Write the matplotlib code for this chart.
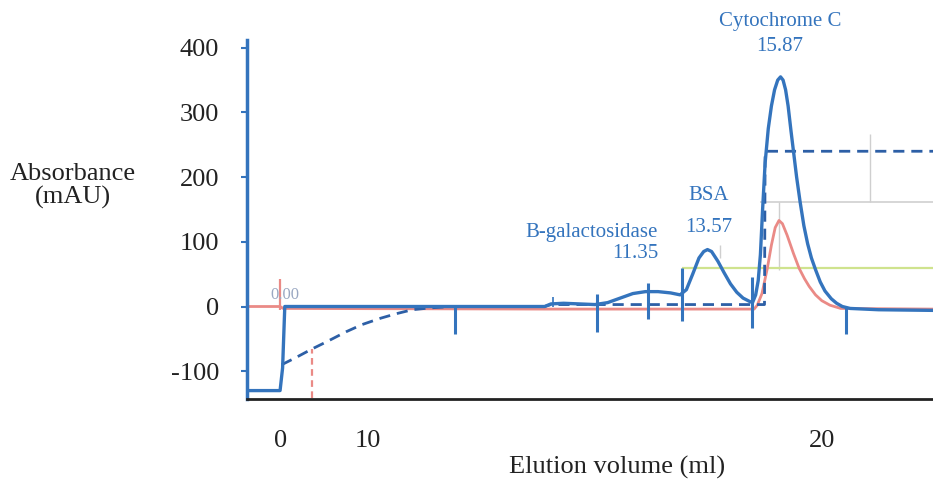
import matplotlib.pyplot as plt
import numpy as np

# elution volume (ml) and absorbance (mAU)
uv_v = [-1.05, 0.0, 0.08, 0.15, 2, 5, 8.4, 8.6, 9.0, 9.5, 10.0, 10.4, 10.8, 11.2, 11.6, 12.0,
        12.4, 12.7, 12.9, 13.1, 13.3, 13.45, 13.57, 13.7, 13.9, 14.1, 14.3, 14.5, 14.7, 14.9,
        15.0, 15.1, 15.18, 15.25, 15.32, 15.4, 15.5, 15.6, 15.7, 15.8, 15.89, 15.97, 16.05,
        16.13, 16.22, 16.3, 16.4, 16.51, 16.63, 16.75, 16.87, 17.0, 17.15, 17.3, 17.5, 17.67,
        17.85, 18.1, 19.0, 20.73]
uv_a = [-130, -130, -95, 0, 0, 0, 0, 4, 5, 4, 3, 6, 13, 20, 23, 23,
        21, 18, 26, 50, 75, 85, 88, 85, 70, 52, 35, 22, 13, 8,
        6, 18, 40, 80, 150, 222, 275, 310, 335, 350, 355, 350, 335,
        310, 272, 240, 200, 162, 125, 97, 75, 57, 38, 24, 12, 5,
        0, -3, -5, -6]

red_v = [-1.05, 0.0, 0.1, 8.4, 15.05, 15.15, 15.3, 15.47, 15.6, 15.72, 15.84, 15.95, 16.1,
         16.3, 16.48, 16.65, 16.8, 17.0, 17.2, 17.46, 17.8, 20.73]
red_a = [0, 0, -3, -4, -4, 2, 20, 59, 95, 122, 133, 128, 110,
         82, 59, 43, 31, 18, 9, 2, -3, -4]

dash_v = [0.05, 0.5, 1.0, 1.5, 2.1, 2.6, 3.2, 3.7, 4.2, 4.8, 5.5, 8.4, 8.6, 15.38, 15.4, 20.73]
dash_a = [-90, -79, -66, -54, -39, -28, -18, -11, -5, -2, 0, 0, 3, 3, 240, 240]

# fraction / event marks: (volume, top, bottom)
marks_v = [5.56, 10.06, 11.68, 12.76, 14.98, 17.97]
marks_top = [0, 19, 37, 60, 46, 0]
marks_bot = [-43, -39, -20, -23, -33, -43]

peaks = [("B-galactosidase", "11.35"), ("BSA", "13.57"), ("Cytochrome C", "15.87")]

xtick_pos = [0, 2.79, 17.2]
xtick_lab = ["0", "10", "20"]
yticks = [-100, 0, 100, 200, 300, 400]

blue = "#3474bd"
dblue = "#2d5fa6"
red = "#ea8a86"
green = "#cfe38e"
gray = "#cfcfcf"
serif = ["Liberation Serif", "DejaVu Serif"]

fig = plt.figure(figsize=(9.33, 4.83), dpi=100)
ax = fig.add_axes([247/933, 1-399/483, 1-247/933, 359/483])
ax.set_xlim(-1.05, 20.73)
ax.set_ylim(-143, 412)

# faint fraction lines
ax.hlines(162, 15.25, 20.73, color=gray, lw=1.2)
ax.vlines(18.73, 162, 266, color=gray, lw=1.0)
ax.vlines(15.84, 57, 162, color=gray, lw=1.0)
ax.vlines(13.97, 75, 95, color=gray, lw=1.0)
ax.hlines(59, 12.76, 20.73, color=green, lw=1.6)

ax.plot(red_v, red_a, color=red, lw=2.0)
ax.plot(dash_v, dash_a, color=dblue, lw=2.0, ls=(0, (4, 2.5)))
ax.plot(uv_v, uv_a, color=blue, lw=2.4)

ax.vlines(marks_v, marks_bot, marks_top, color=blue, lw=2.2)
ax.vlines(8.67, 0, 15, color=blue, lw=1.2)
ax.vlines(0, -5, 42, color=red, lw=1.6)
ax.vlines(1.0, -142, -66, color=red, lw=1.6, ls=(0, (3, 2)))

ax.text(0.15, 18, "0.00", color="#9aa8c2", fontsize=12, family=serif, ha="center", va="center")

# peak labels
ax.text(12.0, 114, peaks[0][0], color=blue, fontsize=15, family=serif, ha="right", va="center")
ax.text(12.0, 82, peaks[0][1], color=blue, fontsize=15, family=serif, ha="right", va="center")
ax.text(13.6, 171, peaks[1][0], color=blue, fontsize=15, family=serif, ha="center", va="center")
ax.text(13.6, 122, peaks[1][1], color=blue, fontsize=15, family=serif, ha="center", va="center")
ax.text(15.87, 440, peaks[2][0], color=blue, fontsize=15, family=serif, ha="center", va="center", clip_on=False)
ax.text(15.87, 402, peaks[2][1], color=blue, fontsize=15, family=serif, ha="center", va="center", clip_on=False)

for s in ["top", "right"]:
    ax.spines[s].set_visible(False)
ax.spines["left"].set_color(blue)
ax.spines["left"].set_linewidth(2.5)
ax.spines["bottom"].set_color("#222222")
ax.spines["bottom"].set_linewidth(2.0)

ax.set_yticks(yticks)
ax.set_yticklabels([str(t) for t in yticks], family=serif, fontsize=19, color="#222222")
ax.tick_params(axis="y", colors=blue, length=4, width=1.5, pad=16, labelcolor="#222222")
ax.set_xticks(xtick_pos)
ax.set_xticklabels(xtick_lab, family=serif, fontsize=19, color="#222222")
ax.tick_params(axis="x", length=0, pad=22)

fig.text(617/933, 1-467/483, "Elution volume (ml)", family=serif, fontsize=19,
         color="#222222", ha="center", va="center")
fig.text(73/933, 1-186/483, "Absorbance\n(mAU)", family=serif, fontsize=19,
         color="#222222", ha="center", va="center", linespacing=1.05)

fig.savefig("out.png", dpi=100)
